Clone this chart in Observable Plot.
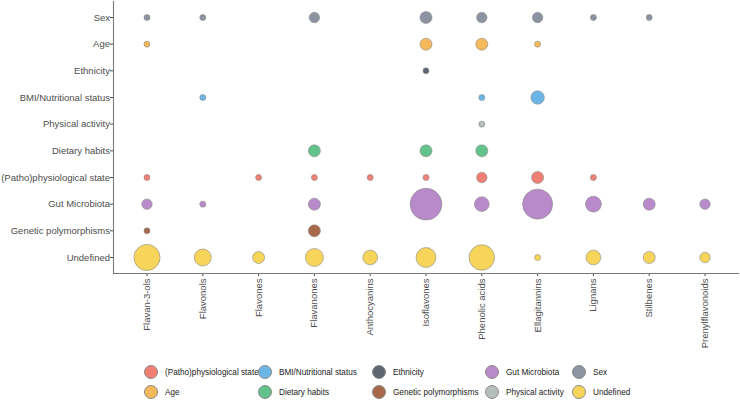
<!DOCTYPE html>
<html><head><meta charset="utf-8">
<script src="https://cdn.jsdelivr.net/npm/d3@7"></script>
<script src="https://cdn.jsdelivr.net/npm/@observablehq/plot@0.6"></script>
<style>
body{margin:0;background:#fff;font-family:"Liberation Sans",Arial,sans-serif;}
#chart svg{display:block}
#legend{display:grid;grid-template-rows:20px 20px;grid-auto-flow:column;grid-template-columns:114px 114px 113px 87px 110px;margin-left:144px;padding-top:10px;font-size:8.2px;color:#1a1a1a}
.item{display:flex;align-items:center;white-space:nowrap}
.sw{width:14px;height:14px;border-radius:50%;box-sizing:border-box;border:0.6px solid #8a8a8a;margin-right:7px;flex:none}
</style></head>
<body><div id="chart"></div><div id="legend"></div>
<script>
const polyphenols = ["Flavan-3-ols","Flavonols","Flavones","Flavanones","Anthocyanins","Isoflavones","Phenolic acids","Ellagitannins","Lignans","Stilbenes","Prenylflavonoids"];
const factors = ["Sex","Age","Ethnicity","BMI/Nutritional status","Physical activity","Dietary habits","(Patho)physiological state","Gut Microbiota","Genetic polymorphisms","Undefined"];
const legendOrder = ["(Patho)physiological state","Age","BMI/Nutritional status","Dietary habits","Ethnicity","Genetic polymorphisms","Gut Microbiota","Physical activity","Sex","Undefined"];
const legendColors = ["#EF8073","#F5B85A","#6BB5E4","#62C28B","#5E6670","#A7694A","#B88AC9","#B5BDBD","#8B94A0","#F6D55A"];

// counts per polyphenol class, in the order of `factors`
const flavan3ols       = [1,1,0,0,0,0,1,3,1,19];
const flavonols        = [1,0,0,1,0,0,0,1,0,8];
const flavones         = [0,0,0,0,0,0,1,0,0,4];
const flavanones       = [3,0,0,0,0,4,1,4,4,9];
const anthocyanins     = [0,0,0,0,0,0,1,0,0,6];
const isoflavones      = [4,4,1,0,0,4,1,28,0,11];
const phenolicAcids    = [3,4,0,1,1,4,3,6,0,18];
const ellagitannins    = [3,1,0,5,0,0,4,25,0,1];
const lignans          = [1,0,0,0,0,0,1,7,0,6];
const stilbenes        = [1,0,0,0,0,0,0,4,0,4];
const prenylflavonoids = [0,0,0,0,0,0,0,3,0,3];

const series = [flavan3ols,flavonols,flavones,flavanones,anthocyanins,isoflavones,phenolicAcids,ellagitannins,lignans,stilbenes,prenylflavonoids];
const data = [];
series.forEach((vals,i)=>vals.forEach((n,j)=>{ if(n>0) data.push({polyphenol:polyphenols[i],factor:factors[j],n}); }));

const chart = Plot.plot({
  width:740, height:352,
  marginLeft:113, marginRight:2, marginTop:1, marginBottom:79,
  style:{fontFamily:"Liberation Sans, Arial, sans-serif", fontSize:"9.5px", color:"#4d4d4d", background:"#fff", overflow:"visible"},
  x:{type:"point", domain:polyphenols, padding:0.6, round:false, label:null, tickRotate:-90, tickSize:3, tickPadding:2},
  y:{type:"point", domain:factors, padding:0.6, round:false, label:null, tickSize:3, tickPadding:0.5},
  r:{domain:[0,28], range:[0,15.9]},
  color:{domain:legendOrder, range:legendColors},
  marks:[
    Plot.frame({anchor:"left", stroke:"#7a7a7a", strokeWidth:1.1}),
    Plot.frame({anchor:"bottom", stroke:"#7a7a7a", strokeWidth:1.1}),
    Plot.dot(data,{x:"polyphenol", y:"factor", r:"n", fill:"factor", fillOpacity:1, stroke:"#8a8a8a", strokeWidth:0.6, sort:{channel:"r", order:"descending"}})
  ]
});
document.getElementById("chart").append(chart);

const leg = d3.select("#legend");
legendOrder.forEach((k,i)=>{
  const it = leg.append("div").attr("class","item");
  it.append("span").attr("class","sw").style("background",legendColors[i]);
  it.append("span").text(k);
});
</script>
</body></html>
